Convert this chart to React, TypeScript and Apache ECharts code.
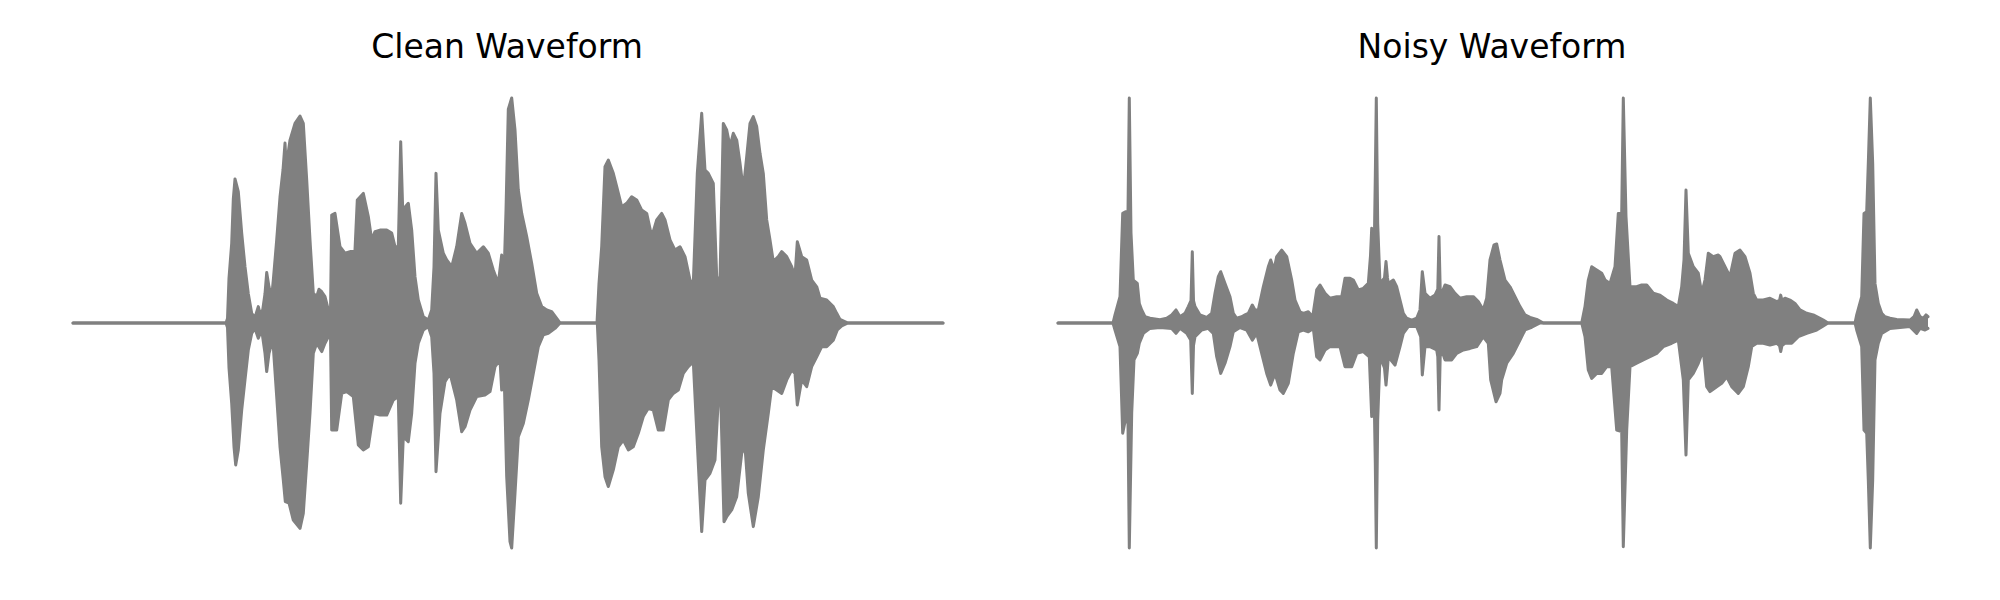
import React, { useEffect, useRef } from "react";
import * as echarts from "echarts";

// Envelope of each waveform: [frame, amplitude] (amplitude normalised to ±1)
const cleanUpper: number[][] = [
  [0,0],[153,0],[154.5,0.02],[156,0.2],[158.7,0.354],[160.3,0.55],[162,0.64],[165.3,0.584],[168.7,0.4],[172,0.25],[175.3,0.13],[178.7,0.043],[182,0.025],[185.3,0.073],[187,0.043],[189.7,0.058],[192,0.13],[193.7,0.224],[196,0.16],[198.7,0.117],[200.3,0.19],[203.7,0.369],[207,0.56],[210,0.68],[212,0.8],[213.5,0.68],[215,0.75],[217,0.813],[222,0.887],[227,0.92],[230.3,0.887],[233.7,0.636],[237,0.369],[240.3,0.132],[243.7,0.117],[246,0.15],[248.7,0.139],[252,0.117],[255.3,0.058],[257.5,0.05],[258.7,0.48],[262,0.487],[267,0.339],[272,0.31],[277,0.317],[282,0.324],[284.3,0.547],[290.3,0.576],[295.3,0.473],[298.7,0.369],[302,0.406],[307,0.413],[313.7,0.413],[318.7,0.4],[322,0.339],[325.3,0.339],[327.7,0.806],[329.7,0.502],[335.3,0.532],[338.7,0.413],[342,0.206],[345.3,0.102],[350.3,0.028],[355.3,0.013],[358.7,0.058],[361,0.25],[363,0.665],[365.3,0.413],[370.3,0.31],[373.7,0.28],[378.7,0.25],[383.7,0.339],[388.7,0.487],[392,0.443],[397,0.354],[403.7,0.31],[410.3,0.339],[415.3,0.31],[420.3,0.236],[425.3,0.176],[428.7,0.302],[431,0.2],[433,0.5],[435.3,0.95],[438.7,1.0],[442,0.858],[445.3,0.591],[448.7,0.487],[453.7,0.384],[458.7,0.265],[463.7,0.132],[468.7,0.073],[473.7,0.058],[478.7,0.05],[483.7,0.02],[487,0],[524,0],[526,0.176],[528.7,0.339],[532,0.695],[535.3,0.724],[540.3,0.665],[543.7,0.606],[548.7,0.517],[553.7,0.532],[558.7,0.561],[563.7,0.547],[568.7,0.502],[573.7,0.487],[578.7,0.384],[583.7,0.458],[588.7,0.487],[592,0.458],[597,0.369],[602,0.324],[607,0.339],[612,0.295],[617,0.191],[620.3,0.176],[624.3,0.665],[628.7,0.932],[632,0.68],[635.3,0.665],[640.3,0.62],[643.7,0.206],[647,0.19],[650.3,0.887],[653.7,0.858],[657,0.784],[660.3,0.843],[663.7,0.813],[667,0.71],[670.3,0.591],[673.7,0.739],[677,0.887],[680.3,0.917],[683.7,0.873],[687,0.754],[690.3,0.665],[693.7,0.458],[697,0.369],[700.3,0.273],[705.3,0.295],[708.7,0.317],[713.7,0.295],[718.7,0.25],[722,0.206],[724.3,0.361],[728.7,0.295],[733.7,0.28],[738.7,0.191],[743.7,0.161],[747,0.11],[753.7,0.102],[760.3,0.073],[763.7,0.043],[767,0.016],[775,0],[870,0]
];

const cleanLower: number[][] = [
  [0,0],[153,0],[154.5,-0.02],[156,-0.2],[158.7,-0.357],[161,-0.55],[162.7,-0.631],[165.3,-0.564],[168.7,-0.387],[172,-0.253],[175.3,-0.12],[178.7,-0.046],[182,-0.024],[185.3,-0.068],[188.7,-0.031],[192,-0.135],[193.7,-0.216],[196,-0.135],[198.7,-0.09],[200.3,-0.105],[203.7,-0.327],[207,-0.55],[210.3,-0.698],[212.3,-0.794],[216,-0.8],[220.3,-0.876],[227,-0.913],[230.3,-0.846],[233.7,-0.624],[237,-0.401],[240.3,-0.135],[243.7,-0.09],[248.7,-0.127],[252,-0.09],[255.3,-0.061],[257.5,-0.06],[258.7,-0.476],[263.7,-0.476],[268.7,-0.313],[273.7,-0.305],[280.3,-0.327],[285.3,-0.542],[290.3,-0.564],[295.3,-0.55],[300.3,-0.401],[307,-0.409],[313.7,-0.409],[320.3,-0.342],[325.3,-0.327],[327.7,-0.801],[330.3,-0.505],[335.3,-0.527],[338.7,-0.401],[342,-0.179],[345.3,-0.09],[350.3,-0.031],[355.3,-0.016],[358.7,-0.061],[361,-0.224],[363,-0.661],[367,-0.401],[372,-0.261],[377,-0.224],[383.7,-0.342],[388.7,-0.483],[392,-0.461],[397,-0.387],[403.7,-0.327],[412,-0.32],[417,-0.305],[422,-0.194],[427,-0.164],[428.7,-0.298],[431,-0.2],[433.7,-0.683],[437,-0.972],[438.7,-1.0],[442,-0.757],[445.3,-0.505],[450.3,-0.446],[455.3,-0.342],[460.3,-0.224],[465.3,-0.105],[470.3,-0.053],[475.3,-0.046],[482,-0.024],[487,0],[524.3,0],[526,-0.164],[528.7,-0.55],[532,-0.683],[535.3,-0.727],[540.3,-0.653],[545.3,-0.55],[550.3,-0.52],[555.3,-0.564],[560.3,-0.55],[565.3,-0.49],[570.3,-0.416],[575.3,-0.379],[580.3,-0.387],[585.3,-0.476],[590.3,-0.476],[595.3,-0.342],[600.3,-0.313],[605.3,-0.298],[610.3,-0.224],[615.3,-0.194],[620.3,-0.172],[625.3,-0.624],[628.7,-0.927],[632,-0.698],[637,-0.668],[642,-0.609],[645.3,-0.342],[647.7,-0.327],[651,-0.883],[653.7,-0.861],[658.7,-0.831],[663.7,-0.772],[668.7,-0.579],[672,-0.55],[675.3,-0.757],[680.3,-0.905],[685.3,-0.772],[690.3,-0.564],[695.3,-0.401],[698.7,-0.283],[703.7,-0.298],[708.7,-0.313],[713.7,-0.253],[718.7,-0.209],[722,-0.224],[724.3,-0.364],[728.7,-0.253],[733.7,-0.283],[738.7,-0.194],[743.7,-0.15],[748.7,-0.105],[753.7,-0.105],[760.3,-0.076],[764.3,-0.031],[768.7,-0.013],[775,0],[870,0]
];

const noisyUpper: number[][] = [
  [0,0],[55,0],[57,0.036],[62,0.117],[64.7,0.487],[68,0.495],[70,0.495],[71.3,1.0],[73,0.4],[75.3,0.191],[79.3,0.176],[81.3,0.087],[83.7,0.058],[87,0.028],[92,0.021],[102,0.015],[108.7,0.021],[113.7,0.036],[118,0.058],[122,0.028],[127,0.043],[130.3,0.073],[133,0.1],[134.3,0.317],[135.5,0.1],[137,0.073],[142,0.036],[148.7,0.025],[153.7,0.043],[157,0.132],[160.3,0.206],[162.7,0.228],[167,0.176],[172,0.117],[175.3,0.043],[178.7,0.021],[183.7,0.028],[187,0.036],[190.3,0.043],[194.3,0.08],[197,0.058],[200.3,0.058],[205.3,0.161],[210.3,0.25],[212.7,0.28],[216,0.236],[218.7,0.295],[223.7,0.324],[228.7,0.295],[233.7,0.191],[237,0.102],[242,0.05],[245.3,0.043],[250.3,0.05],[254.7,0.028],[258.7,0.147],[262,0.169],[267,0.132],[272,0.11],[278.7,0.117],[283.7,0.117],[287,0.199],[292,0.199],[295.3,0.191],[300.3,0.147],[305.3,0.154],[310.3,0.176],[312.5,0.3],[313.7,0.421],[316,0.25],[317.3,0.65],[318.3,1.0],[319.7,0.443],[322,0.176],[326.5,0.2],[328,0.273],[329.5,0.2],[330.3,0.176],[335.3,0.191],[338.7,0.161],[342,0.102],[345.3,0.043],[348.7,0.021],[353.7,0.013],[358.7,0.021],[362,0.058],[364.3,0.228],[367,0.132],[372,0.11],[377,0.124],[379.8,0.15],[381,0.384],[382.2,0.15],[383.7,0.132],[387,0.169],[392,0.161],[397,0.132],[402,0.11],[408.7,0.117],[415.3,0.117],[420.3,0.095],[425.3,0.058],[428.7,0.11],[432,0.28],[436,0.347],[438.7,0.351],[442,0.28],[447,0.191],[452,0.161],[457,0.117],[462,0.073],[467,0.036],[472,0.025],[478.7,0.016],[485.3,0],[523.7,0],[527,0.073],[530.3,0.191],[533.7,0.25],[538.7,0.236],[543.7,0.221],[547,0.191],[552,0.176],[557,0.25],[560.3,0.487],[563.7,0.487],[565.3,1.0],[568,0.473],[572,0.161],[578.7,0.161],[583.7,0.169],[588.7,0.169],[595.3,0.132],[602,0.124],[608.7,0.102],[615.3,0.087],[620.3,0.073],[623.7,0.161],[626,0.28],[628,0.591],[630.3,0.31],[635.3,0.25],[640.3,0.221],[643.7,0.132],[647,0.191],[650.3,0.31],[655.3,0.295],[660.3,0.302],[662,0.295],[667,0.25],[672,0.206],[677,0.31],[682,0.324],[687,0.295],[692,0.221],[695.3,0.132],[698.7,0.102],[705.3,0.102],[712,0.11],[718.7,0.095],[721.5,0.1],[722.7,0.124],[724,0.1],[727,0.11],[732,0.102],[737,0.087],[742,0.058],[748.7,0.043],[755.3,0.036],[762,0.021],[765.3,0.013],[770,0],[797,0],[798.7,0.036],[803.7,0.117],[806,0.487],[808.7,0.495],[810.3,0.71],[812.3,1.0],[814.7,0.71],[817,0.176],[820.3,0.087],[823.7,0.043],[827,0.028],[832,0.021],[838.7,0.016],[852,0.013],[856,0.028],[858.7,0.058],[862,0.028],[865.3,0.021],[868,0.036],[870,0.028]
];

const noisyLower: number[][] = [
  [0,0],[55,0],[57,-0.031],[62,-0.105],[64.7,-0.49],[68.7,-0.401],[70,-0.45],[71.3,-1.0],[73.7,-0.401],[76,-0.164],[79.3,-0.135],[81.3,-0.09],[85.3,-0.046],[92,-0.024],[102,-0.02],[113.7,-0.024],[118,-0.046],[122,-0.024],[128.7,-0.046],[132.7,-0.076],[134.3,-0.313],[135.5,-0.1],[137,-0.061],[143.7,-0.031],[150.3,-0.024],[155.3,-0.046],[158.7,-0.15],[162.7,-0.224],[167,-0.179],[172,-0.105],[175.3,-0.039],[182,-0.02],[188.7,-0.031],[194.3,-0.076],[198.7,-0.046],[203.7,-0.135],[208.7,-0.224],[212.7,-0.276],[217,-0.224],[222,-0.298],[225.3,-0.313],[230.3,-0.268],[235.3,-0.135],[240.3,-0.039],[245.3,-0.031],[250.3,-0.039],[255.3,-0.024],[258.7,-0.15],[262,-0.164],[267,-0.12],[272,-0.105],[282,-0.105],[287,-0.194],[293.7,-0.194],[298.7,-0.135],[305.3,-0.127],[311.3,-0.15],[313.7,-0.416],[316,-0.283],[317.3,-0.624],[318.3,-1.0],[319.7,-0.431],[322,-0.15],[326.5,-0.2],[328,-0.276],[329.5,-0.2],[330.3,-0.15],[337,-0.187],[342,-0.105],[345.3,-0.046],[350.3,-0.016],[358.7,-0.016],[362.7,-0.061],[364.3,-0.231],[367,-0.105],[372,-0.105],[378.7,-0.12],[379.8,-0.15],[381,-0.387],[382.2,-0.15],[383.7,-0.12],[387,-0.164],[393.7,-0.164],[398.7,-0.135],[405.3,-0.12],[412,-0.113],[418.7,-0.105],[425.3,-0.061],[430.3,-0.09],[432.7,-0.253],[438,-0.35],[442,-0.313],[443.7,-0.253],[448.7,-0.179],[455.3,-0.135],[462,-0.076],[467,-0.031],[473.7,-0.019],[482,0],[523.7,0],[527,-0.061],[530.3,-0.209],[533.7,-0.246],[538.7,-0.224],[543.7,-0.224],[548.7,-0.194],[553.7,-0.194],[558.7,-0.476],[563.7,-0.483],[565.3,-0.994],[568.7,-0.476],[572,-0.194],[578.7,-0.179],[585.3,-0.164],[592,-0.15],[598.7,-0.135],[605.3,-0.105],[613.7,-0.09],[620.3,-0.076],[625.3,-0.253],[628,-0.587],[630.3,-0.253],[635.3,-0.224],[640.3,-0.179],[645.3,-0.12],[648.7,-0.283],[652,-0.305],[658.7,-0.283],[663.7,-0.268],[668.7,-0.239],[673.7,-0.283],[680.3,-0.313],[685.3,-0.283],[690.3,-0.194],[693.7,-0.105],[698.7,-0.09],[705.3,-0.09],[712,-0.098],[718.7,-0.09],[721.5,-0.1],[722.7,-0.127],[724,-0.1],[727,-0.09],[733.7,-0.09],[740.3,-0.061],[748.7,-0.046],[758.7,-0.031],[765.3,-0.013],[770,0],[797,0],[798.7,-0.031],[803.7,-0.105],[806,-0.476],[808.7,-0.49],[810.3,-0.698],[812.3,-1.0],[814.7,-0.698],[817,-0.164],[820.3,-0.09],[823.7,-0.046],[832,-0.024],[852,-0.016],[858.7,-0.046],[862,-0.024],[867,-0.031],[870,-0.024]
];

const titles = ["Clean Waveform", "Noisy Waveform"];
const FRAMES = 870;
const WAVE_COLOR = "#808080";

export default function App() {
  const ref = useRef<HTMLDivElement>(null);

  useEffect(() => {
    if (!ref.current) return;
    const chart = echarts.init(ref.current, null, { renderer: "svg" });
    const gridLefts = [73, 1058];
    const titleCenters = [507, 1492];
    const gridWidth = 870;
    const yMax = 1.05;
    const pxPerUnit = 225;
    const center = 323;
    const gridHeight = 2 * yMax * pxPerUnit;
    const gridTop = center - yMax * pxPerUnit;

    const waveSeries = (data: number[][], idx: number) => ({
      type: "line",
      xAxisIndex: idx,
      yAxisIndex: idx,
      data,
      symbol: "none",
      showSymbol: false,
      smooth: false,
      silent: true,
      clip: false,
      lineStyle: { color: WAVE_COLOR, width: 3, cap: "round", join: "round" },
      areaStyle: { color: WAVE_COLOR, opacity: 1, origin: 0 },
      itemStyle: { color: WAVE_COLOR },
    });

    chart.setOption({
      animation: false,
      backgroundColor: "#ffffff",
      grid: gridLefts.map((l) => ({ left: l, top: gridTop, width: gridWidth, height: gridHeight })),
      xAxis: [0, 1].map((i) => ({ type: "value", gridIndex: i, min: 0, max: FRAMES, show: false })),
      yAxis: [0, 1].map((i) => ({ type: "value", gridIndex: i, min: -yMax, max: yMax, show: false })),
      series: [
        waveSeries(cleanUpper, 0),
        waveSeries(cleanLower, 0),
        waveSeries(noisyUpper, 1),
        waveSeries(noisyLower, 1),
      ],
      graphic: titles.map((t, i) => ({
        type: "text",
        x: titleCenters[i],
        y: 46.5,
        style: {
          text: t,
          font: '33px "DejaVu Sans"',
          fill: "#000000",
          align: "center",
          verticalAlign: "middle",
        },
      })),
    });
    return () => chart.dispose();
  }, []);

  return (
    <div
      ref={ref}
      style={{ position: "fixed", left: 0, top: 0, width: 2000, height: 600, background: "#fff" }}
    />
  );
}
